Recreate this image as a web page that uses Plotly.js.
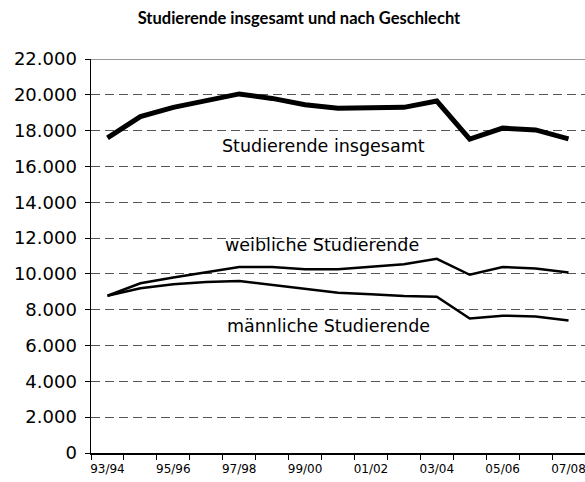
<!DOCTYPE html>
<html>
<head>
<meta charset="utf-8">
<script src="https://cdn.plot.ly/plotly-3.0.1.min.js"></script>
<style>html,body{margin:0;padding:0;background:#fff;}#chart{width:585px;height:482px;}</style>
</head>
<body>
<div id="chart"></div>
<script>
const categories = ["93/94","94/95","95/96","96/97","97/98","98/99","99/00","00/01","01/02","02/03","03/04","04/05","05/06","06/07","07/08"];
const tickLabels = ["93/94","","95/96","","97/98","","99/00","","01/02","","03/04","","05/06","","07/08"];
const insgesamt = [17600,18780,19300,19700,20050,19800,19450,19250,19280,19300,19650,17530,18140,18040,17540];
const weiblich  = [8780,9480,9800,10100,10380,10380,10260,10260,10380,10540,10840,9950,10390,10300,10080];
const maennlich = [8780,9200,9420,9550,9610,9380,9150,8950,8860,8760,8720,7510,7670,7620,7400];
const yTicks = [0,2000,4000,6000,8000,10000,12000,14000,16000,18000,20000,22000];
const yTickText = ["0","2.000","4.000","6.000","8.000","10.000","12.000","14.000","16.000","18.000","20.000","22.000"];

const font = "DejaVu Sans, sans-serif";
const traces = [
  {x: categories, y: insgesamt, type: "scatter", mode: "lines", line: {color: "#000", width: 5}, hoverinfo: "skip"},
  {x: categories, y: weiblich, type: "scatter", mode: "lines", line: {color: "#000", width: 2.5}, hoverinfo: "skip"},
  {x: categories, y: maennlich, type: "scatter", mode: "lines", line: {color: "#000", width: 2.5}, hoverinfo: "skip"}
];
const layout = {
  width: 585, height: 482,
  margin: {l: 91, r: 0, t: 59, b: 29},
  paper_bgcolor: "#fff", plot_bgcolor: "#fff",
  showlegend: false,
  title: {text: "Studierende insgesamt und nach Geschlecht", font: {family: "Lato, sans-serif", size: 16.5, color: "#000", weight: "bold"}, x: 0.511, xanchor: "center", y: 0.963, yanchor: "middle"},
  xaxis: {
    type: "category", categoryorder: "array", categoryarray: categories,
    range: [-0.5, 14.5], tickson: "boundaries",
    tickmode: "array", tickvals: categories, ticktext: tickLabels, tickangle: 0,
    ticks: "outside", ticklen: 5, tickcolor: "#000", tickwidth: 1, ticklabelstandoff: 4,
    showline: true, linecolor: "#000", linewidth: 1.5,
    showgrid: false, zeroline: false,
    tickfont: {family: font, size: 12, color: "#000"}
  },
  yaxis: {
    range: [0, 22000], tickmode: "array", tickvals: yTicks, ticktext: yTickText,
    ticks: "outside", ticklen: 5, tickcolor: "#000", tickwidth: 1, ticklabelstandoff: 4,
    showline: true, linecolor: "#000", linewidth: 1.5,
    showgrid: true, gridcolor: "#555", gridwidth: 1, griddash: "9px,5px",
    zeroline: false,
    tickfont: {family: font, size: 18, color: "#000"}
  },
  shapes: [
    {type: "line", xref: "paper", yref: "y", x0: 0, x1: 1, y0: 22000, y1: 22000, line: {color: "#333", width: 1}}
  ],
  annotations: [
    {text: "Studierende insgesamt", xref: "paper", yref: "y", x: 0.47, y: 17150, showarrow: false, font: {family: font, size: 17.5, color: "#000"}},
    {text: "weibliche Studierende", xref: "paper", yref: "y", x: 0.467, y: 11620, showarrow: false, font: {family: font, size: 17.5, color: "#000"}},
    {text: "männliche Studierende", xref: "paper", yref: "y", x: 0.481, y: 7095, showarrow: false, font: {family: font, size: 17.5, color: "#000"}}
  ]
};
Plotly.newPlot("chart", traces, layout, {displayModeBar: false, staticPlot: true});
</script>
</body>
</html>
